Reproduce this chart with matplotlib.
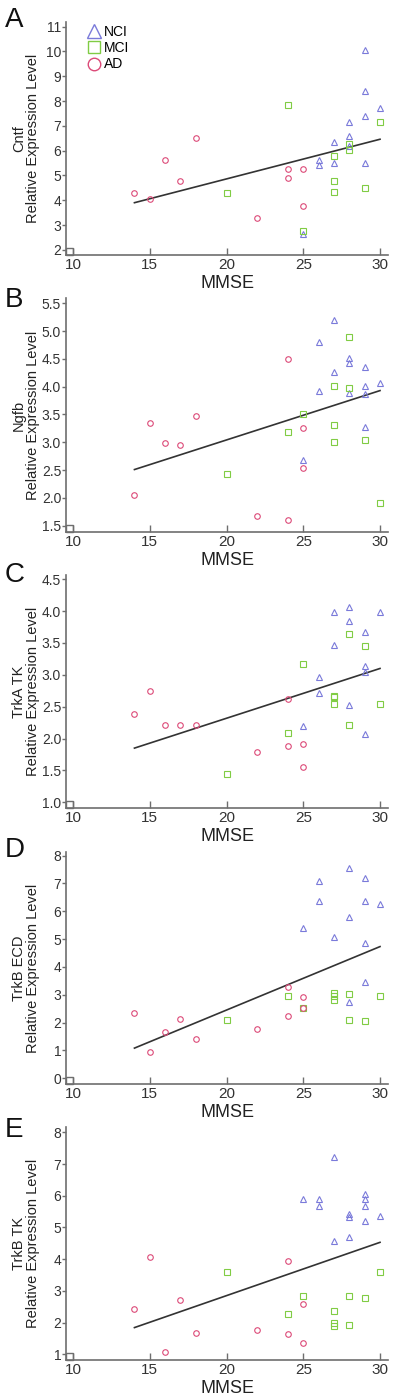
import matplotlib
matplotlib.use('Agg')
import matplotlib.pyplot as plt
from matplotlib import font_manager
from matplotlib.lines import Line2D
from matplotlib.patches import Rectangle

# MMSE scores of each group (same subjects in every panel)
ad_x = [14, 15, 16, 17, 18, 22, 24, 24, 25, 25]
mci_x = [20, 24, 25, 27, 27, 27, 28, 28, 29, 30]
nci_x = [25, 26, 26, 27, 27, 28, 28, 28, 29, 29, 29, 29, 30]
nci_x_d = [25, 26, 26, 27, 28, 28, 28, 29, 29, 29, 29, 30]

# relative expression levels, panel A..E
ad_a = [4.31, 4.04, 5.62, 4.79, 6.50, 3.27, 5.26, 4.90, 5.25, 3.76]
mci_a = [4.31, 7.84, 2.77, 5.80, 4.79, 4.35, 6.27, 6.03, 4.48, 7.14]
nci_a = [2.63, 5.62, 5.42, 6.36, 5.52, 7.16, 6.59, 6.20, 10.06, 8.42, 7.41, 5.52, 7.71]

ad_b = [2.06, 3.35, 2.98, 2.95, 3.47, 1.67, 4.49, 1.61, 3.25, 2.54]
mci_b = [2.43, 3.18, 3.51, 4.01, 3.31, 3.01, 4.89, 3.98, 3.05, 1.91]
nci_b = [2.68, 4.81, 3.93, 5.20, 4.27, 4.51, 4.42, 3.88, 4.36, 4.01, 3.86, 3.28, 4.06]

ad_c = [2.38, 2.74, 2.21, 2.22, 2.21, 1.79, 2.62, 1.88, 1.92, 1.55]
mci_c = [1.44, 2.08, 3.17, 2.67, 2.65, 2.54, 3.64, 2.21, 3.46, 2.54]
nci_c = [2.19, 2.97, 2.71, 3.98, 3.47, 4.07, 3.85, 2.52, 3.67, 3.14, 3.04, 2.07, 3.99]

ad_d = [2.34, 0.93, 1.66, 2.12, 1.39, 1.77, 3.28, 2.23, 2.92, 2.54]
mci_d = [2.08, 2.96, 2.51, 3.05, 2.97, 2.81, 3.03, 2.08, 2.06, 2.96]
nci_d = [5.41, 7.07, 6.37, 5.09, 7.57, 5.81, 2.73, 7.19, 6.37, 4.85, 3.47, 6.26]

ad_e = [2.43, 4.06, 1.08, 2.72, 1.67, 1.76, 3.93, 1.65, 2.60, 1.34]
mci_e = [3.60, 2.26, 2.84, 2.37, 2.00, 1.89, 2.85, 1.91, 2.78, 3.58]
nci_e = [5.89, 5.89, 5.67, 7.23, 4.58, 5.42, 5.34, 4.71, 6.07, 5.89, 5.68, 5.21, 5.37]

# regression line ends (MMSE 14 -> 30)
fit_x = [14, 30]
fit_a = [3.90, 6.46]
fit_b = [2.51, 3.93]
fit_c = [1.85, 3.10]
fit_d = [1.08, 4.73]
fit_e = [1.84, 4.53]

letters = ['A', 'B', 'C', 'D', 'E']
genes = ['Cntf', 'Ngfb', 'TrkA TK', 'TrkB ECD', 'TrkB TK']
ylims = [(1.79, 11.19), (1.387, 5.595), (0.91, 4.567), (-0.21, 8.13), (0.817, 8.17)]
yticks = [list(range(2, 12)),
          [1.5, 2.0, 2.5, 3.0, 3.5, 4.0, 4.5, 5.0, 5.5],
          [1.0, 1.5, 2.0, 2.5, 3.0, 3.5, 4.0, 4.5],
          list(range(0, 9)),
          list(range(1, 9))]
ytick_fmt = ['{:.0f}', '{:.1f}', '{:.1f}', '{:.0f}', '{:.0f}']
xticks = [10, 15, 20, 25, 30]

nci_col = '#7a7ada'
mci_col = '#80cc44'
ad_col = '#dc4a78'
axis_col = '#6e6e6e'

names = {f.name for f in font_manager.fontManager.ttflist}
narrow = 'Liberation Sans Narrow' if 'Liberation Sans Narrow' in names else 'Liberation Sans'
plt.rcParams['font.family'] = ['Liberation Sans', 'DejaVu Sans']

W, H = 400, 1395
fig = plt.figure(figsize=(W / 100, H / 100), dpi=100)

panel_px = [(22, 255), (298, 532), (575, 808), (852, 1084), (1127, 1360)]
letter_base = [27, 307, 582, 857, 1137]

panels = [(ad_a, mci_a, nci_a, fit_a), (ad_b, mci_b, nci_b, fit_b),
          (ad_c, mci_c, nci_c, fit_c), (ad_d, mci_d, nci_d, fit_d),
          (ad_e, mci_e, nci_e, fit_e)]

for i, (ad, mci, nci, fit) in enumerate(panels):
    top, bot = panel_px[i]
    ax = fig.add_axes([66 / W, 1 - bot / H, 322 / W, (bot - top) / H])
    nx = nci_x_d if i == 3 else nci_x
    ax.plot(fit_x, fit, color='#333333', lw=1.2, zorder=2)
    ax.plot(nx, nci, ls='none', marker='^', ms=5, mfc='none', mec=nci_col, mew=0.8, zorder=3)
    ax.plot(mci_x, mci, ls='none', marker='s', ms=4, mfc='none', mec=mci_col, mew=0.8, zorder=3)
    ax.plot(ad_x, ad, ls='none', marker='o', ms=4, mfc='none', mec=ad_col, mew=0.8, zorder=3)

    ax.set_xlim(9.54, 30.52)
    ax.set_ylim(*ylims[i])
    ax.set_xticks(xticks)
    ax.set_yticks(yticks[i])
    ax.set_yticklabels([ytick_fmt[i].format(v) for v in yticks[i]])
    for s in ['top', 'right']:
        ax.spines[s].set_visible(False)
    for s in ['left', 'bottom']:
        ax.spines[s].set_color(axis_col)
        ax.spines[s].set_linewidth(1.2)
    ax.tick_params(axis='x', direction='in', length=5, width=1, color=axis_col, pad=2,
                   labelsize=11, labelcolor='#333333')
    ax.tick_params(axis='y', direction='out', length=3, width=1, color=axis_col, pad=0.5,
                   labelsize=10, labelcolor='#333333')
    for lab in ax.get_xticklabels() + ax.get_yticklabels():
        lab.set_family([narrow, 'DejaVu Sans'])

    ax.set_xlabel('MMSE', fontsize=13, family=[narrow, 'DejaVu Sans'], color='#222222', labelpad=2)
    ax.set_ylabel(genes[i] + '\nRelative Expression Level', fontsize=10.5, color='#222222',
                  linespacing=1.0)
    ax.yaxis.set_label_coords(-0.08, 0.5)

    ax.add_patch(Rectangle((0, 0), 0.022, 0.03, transform=ax.transAxes, fill=False,
                           ec=axis_col, lw=1, clip_on=False))

    fig.text(5 / W, 1 - letter_base[i] / H, letters[i], fontsize=20, va='baseline',
             ha='left', color='#111111')

    if i == 0:
        handles = [Line2D([], [], ls='none', marker='^', ms=10, mfc='none', mec=nci_col, mew=1),
                   Line2D([], [], ls='none', marker='s', ms=9, mfc='none', mec=mci_col, mew=1),
                   Line2D([], [], ls='none', marker='o', ms=9, mfc='none', mec=ad_col, mew=1)]
        ax.legend(handles, ['NCI', 'MCI', 'AD'], loc='upper left', frameon=False,
                  bbox_to_anchor=(0.05, 1.01), handlelength=0.9, handletextpad=0.3,
                  labelspacing=0.15, borderaxespad=0,
                  prop={'family': [narrow, 'DejaVu Sans'], 'size': 10})

fig.savefig('out.png', dpi=100)
